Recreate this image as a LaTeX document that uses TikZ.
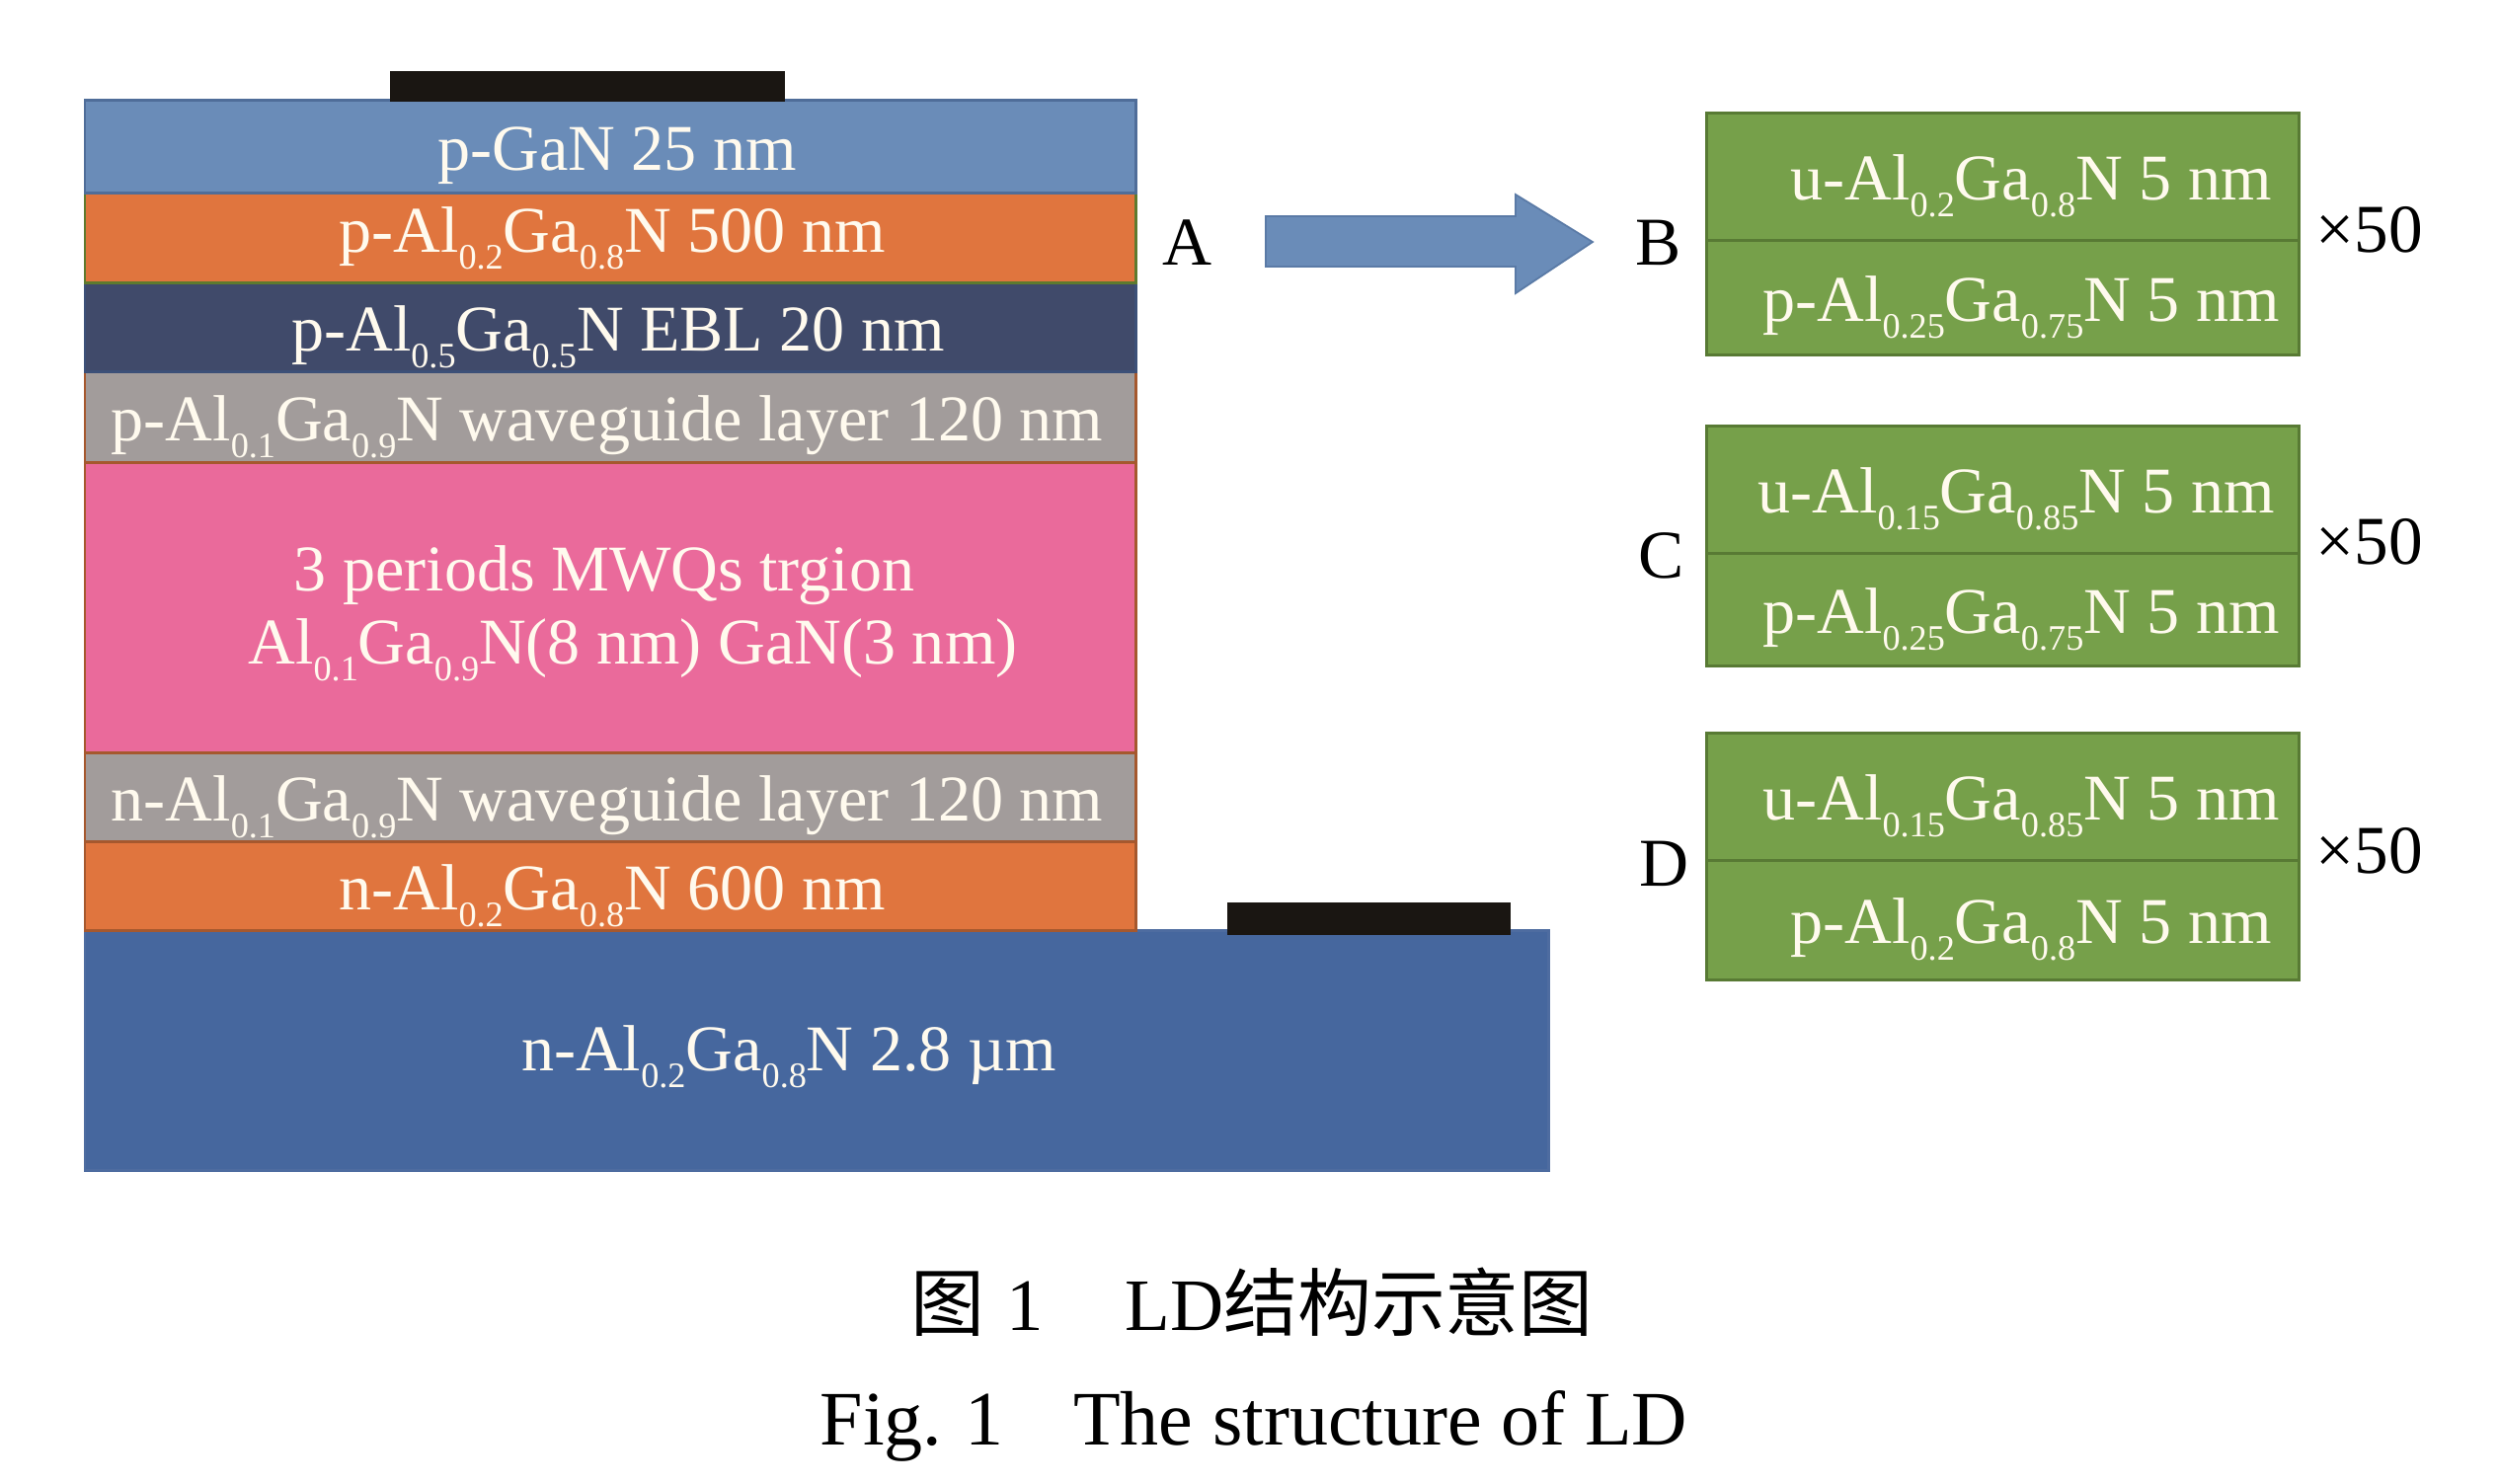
\documentclass[tikz,border=0pt]{standalone}
\usepackage{fontspec}
\setmainfont{Liberation Serif}
\newfontfamily\cjk{Noto Sans CJK SC}
\usepackage{graphicx}
\definecolor{pganc}{RGB}{106,140,184}
\definecolor{pganb}{RGB}{79,109,153}
\definecolor{orangec}{RGB}{224,117,62}
\definecolor{oliveb}{RGB}{94,122,46}
\definecolor{brownb}{RGB}{165,88,46}
\definecolor{eblc}{RGB}{64,74,106}
\definecolor{eblb}{RGB}{60,80,120}
\definecolor{grayc}{RGB}{162,156,155}
\definecolor{pinkc}{RGB}{234,106,155}
\definecolor{subc}{RGB}{70,103,158}
\definecolor{subb}{RGB}{78,108,160}
\definecolor{greenc}{RGB}{118,160,74}
\definecolor{greenb}{RGB}{88,122,52}
\definecolor{txtc}{RGB}{255,250,238}
\definecolor{contc}{RGB}{26,22,18}
\definecolor{arrb}{RGB}{90,122,166}
\newcommand{\dn}[1]{\raisebox{-0.25em}{\fontsize{10.3pt}{10.3pt}\selectfont #1}}
\tikzset{
  lay/.style={line width=0.85pt},
  ltxt/.style={text=txtc, font=\fontsize{18.8pt}{22pt}\selectfont, inner sep=0pt, text height=12.4pt, text depth=0pt},
  lbl/.style={text=black, font=\fontsize{19.7pt}{23pt}\selectfont, inner sep=0pt, text height=13pt, text depth=0pt},
  capt/.style={text=black, inner sep=0pt, anchor=base},
}
\begin{document}
\begin{tikzpicture}[x=0.01cm,y=-0.01cm]
\useasboundingbox (0,0) rectangle (2530,1502);
% substrate
\draw[lay, fill=subc, draw=subb] (86,942) rectangle (1568,1185);
% layers
\draw[lay, fill=orangec, draw=brownb] (86,852) rectangle (1150,942);
\draw[lay, fill=grayc, draw=brownb] (86,762) rectangle (1150,852);
\draw[lay, fill=pinkc, draw=brownb] (86,468) rectangle (1150,762);
\draw[lay, fill=grayc, draw=brownb] (86,376) rectangle (1150,468);
\draw[lay, fill=eblc, draw=eblb] (86,286) rectangle (1150,376);
\draw[lay, fill=orangec, draw=oliveb] (86,195) rectangle (1150,286);
\draw[lay, fill=pganc, draw=pganb] (86,101) rectangle (1150,195);
% contacts
\fill[contc] (395,72) rectangle (795,103);
\fill[contc] (1243,914) rectangle (1530,947);
% layer labels
\node[ltxt] (tpgan) at (625,151) {p-GaN 25 nm};
\node[ltxt] (tporange) at (620,234) {p-Al\dn{0.2}Ga\dn{0.8}N 500 nm};
\node[ltxt] (tebl) at (626,334) {p-Al\dn{0.5}Ga\dn{0.5}N EBL 20 nm};
\node[ltxt] (tpwg) at (615,425) {p-Al\dn{0.1}Ga\dn{0.9}N waveguide layer 120 nm};
\node[ltxt] (tmqa) at (612,577) {3 periods MWQs trgion};
\node[ltxt] (tmqb) at (641,651) {Al\dn{0.1}Ga\dn{0.9}N(8 nm) GaN(3 nm)};
\node[ltxt] (tnwg) at (615,810) {n-Al\dn{0.1}Ga\dn{0.9}N waveguide layer 120 nm};
\node[ltxt] (tnorange) at (620,900) {n-Al\dn{0.2}Ga\dn{0.8}N 600 nm};
\node[ltxt] (tsub) at (799,1063) {n-Al\dn{0.2}Ga\dn{0.8}N 2.8 µm};
% block arrow
\draw[line width=0.5pt, fill=pganc, draw=arrb] (1282,219) -- (1535,219) -- (1535,197) -- (1613,245) -- (1535,297) -- (1535,270) -- (1282,270) -- cycle;
% letters
\node[lbl] (la) at (1202,246) {A};
\node[lbl] (lb) at (1680,246) {B};
\node[lbl] (lc) at (1683,563) {C};
\node[lbl] (ld) at (1685,875) {D};
% green boxes
\draw[lay, fill=greenc, draw=greenb] (1728,114) rectangle (2328,243);
\draw[lay, fill=greenc, draw=greenb] (1728,243) rectangle (2328,359);
\draw[lay, fill=greenc, draw=greenb] (1728,431) rectangle (2328,560);
\draw[lay, fill=greenc, draw=greenb] (1728,560) rectangle (2328,674);
\draw[lay, fill=greenc, draw=greenb] (1728,742) rectangle (2328,871);
\draw[lay, fill=greenc, draw=greenb] (1728,871) rectangle (2328,992);
\node[ltxt] (tb1) at (2057,181) {u-Al\dn{0.2}Ga\dn{0.8}N 5 nm};
\node[ltxt] (tb2) at (2047,304) {p-Al\dn{0.25}Ga\dn{0.75}N 5 nm};
\node[ltxt] (tc1) at (2042,498) {u-Al\dn{0.15}Ga\dn{0.85}N 5 nm};
\node[ltxt] (tc2) at (2047,620) {p-Al\dn{0.25}Ga\dn{0.75}N 5 nm};
\node[ltxt] (td1) at (2047,809) {u-Al\dn{0.15}Ga\dn{0.85}N 5 nm};
\node[ltxt] (td2) at (2057,934) {p-Al\dn{0.2}Ga\dn{0.8}N 5 nm};
% x50
\node[lbl] (xb) at (2400,233) {×50};
\node[lbl] (xc) at (2400,549) {×50};
\node[lbl] (xd) at (2400,862) {×50};
% caption
\node[capt, font=\fontsize{21.3pt}{24pt}\selectfont] (cap1) at (1268,1347) {{\cjk 图}\hspace{0.3em}1\hspace{1.1em}LD{\cjk 结构示意图}};
\node[capt, font=\fontsize{22.2pt}{26pt}\selectfont] (cap2) at (1270,1463) {Fig.\hspace{0.3em}1\hspace{0.9em}The structure of LD};
\end{tikzpicture}
\end{document}
